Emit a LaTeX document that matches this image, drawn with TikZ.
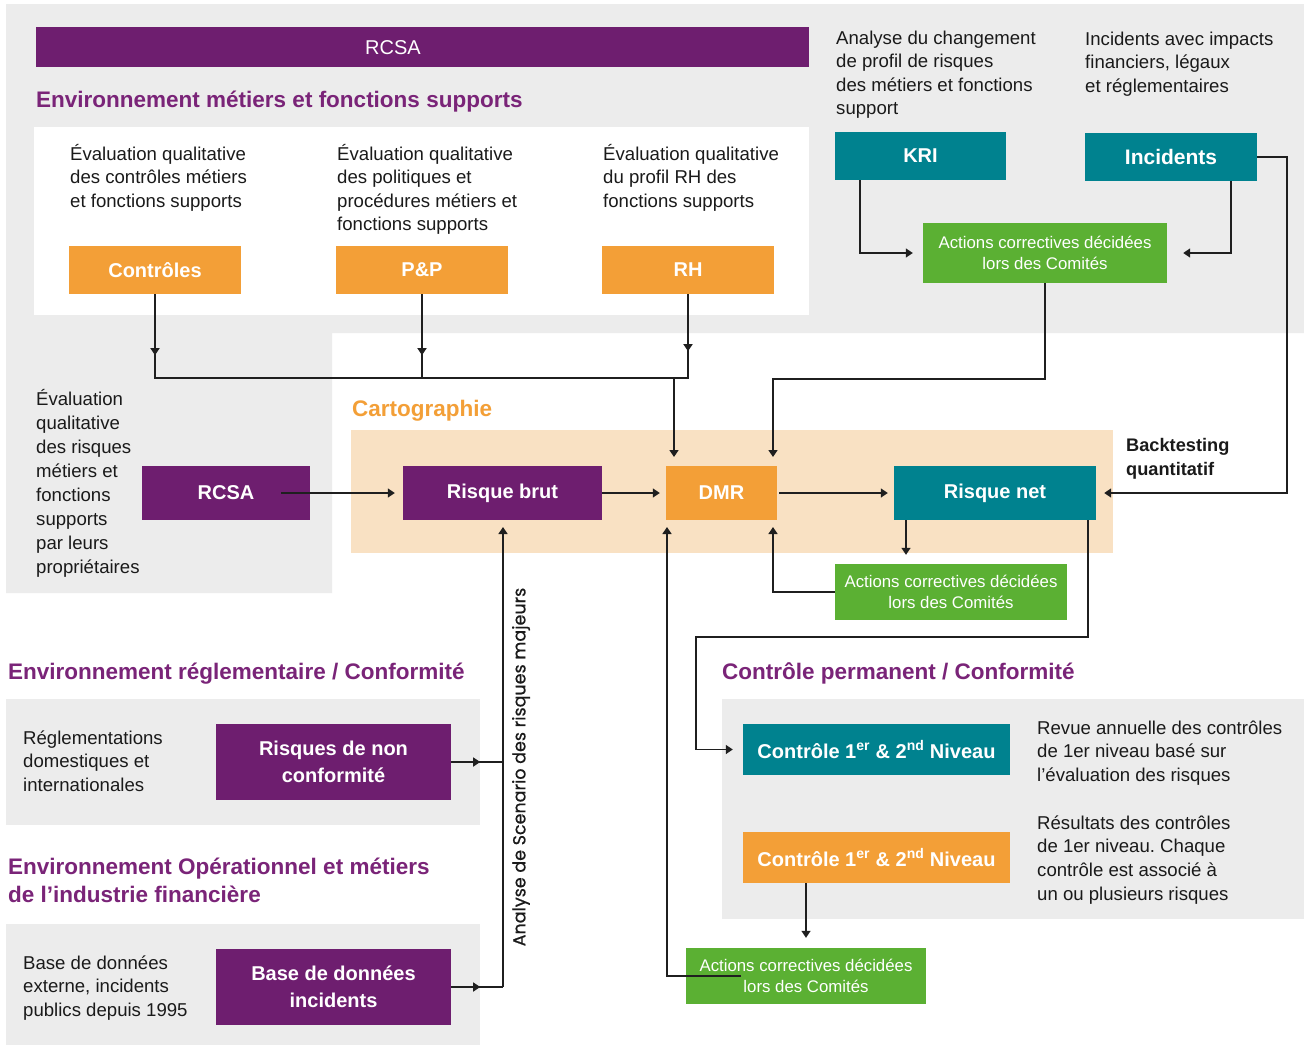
\documentclass[tikz,border=0pt]{standalone}
\usepackage{fontspec}
\setmainfont{Liberation Sans}
\newfontfamily\scenfont[FakeBold=0.7]{Poppins}
\usetikzlibrary{arrows.meta}
\frenchspacing
\definecolor{cpurple}{HTML}{6E1E6F}
\definecolor{tpurple}{HTML}{7A2478}
\definecolor{corange}{HTML}{F39F37}
\definecolor{cteal}{HTML}{00828F}
\definecolor{cgreen}{HTML}{5BB033}
\definecolor{cpeach}{HTML}{F9E1C3}
\definecolor{cgrey}{HTML}{ECECEC}
\definecolor{ctext}{HTML}{1A1A1A}
\tikzset{
  box/.style={inner sep=0pt, text=white, font=\bfseries\fontsize{20}{24}\selectfont, align=center},
  pbox/.style={box, fill=cpurple},
  obox/.style={box, fill=corange},
  tbox/.style={box, fill=cteal},
  gbox/.style={box, fill=cgreen, font=\fontsize{16.8}{20.5}\selectfont},
  body/.style={inner sep=0pt, anchor=base west, align=left, text=ctext, font=\fontsize{18.6}{23.6}\selectfont},
  ttl/.style={inner sep=0pt, anchor=base west, align=left, text=tpurple, font=\bfseries\fontsize{22.5}{29}\selectfont},
  ln/.style={line width=1.5pt, draw=black!88},
  arr/.style={ln, -{Triangle[width=9pt,length=7pt]}}
}
\begin{document}
\begin{tikzpicture}[x=1pt,y=-1pt]
\useasboundingbox (0,0) rectangle (1304,1045);
\fill[white] (0,0) rectangle (1304,1045);
% backgrounds
\fill[cgrey] (6,4) -- (1304,4) -- (1304,333) -- (332,333) -- (332,593) -- (6,593) -- cycle;
\fill[white] (34,127) rectangle (809,315);
\fill[cpeach] (351,430) rectangle (1113,553);
\fill[cgrey] (722,699) rectangle (1304,919);
\fill[cgrey] (6,699) rectangle (480,825);
\fill[cgrey] (6,924) rectangle (480,1045);

% top banner
\fill[cpurple] (36,27) rectangle (809,67);
\node[box, font=\fontsize{20}{24}\selectfont] (rcsatop) at (393,48) {RCSA};
\node[ttl] (title1) at (36,107) {Environnement métiers et fonctions supports};

% top texts (base anchor = last line baseline)
\node[body] (t1) at (70,207.2) {Évaluation qualitative\\des contrôles métiers\\et fonctions supports};
\node[body] (t2) at (337,230.8) {Évaluation qualitative\\des politiques et\\procédures métiers et\\fonctions supports};
\node[body] (t3) at (603,207.2) {Évaluation qualitative\\du profil RH des\\fonctions supports};
\node[body] (tkri) at (836,114.8) {Analyse du changement\\de profil de risques\\des métiers et fonctions\\support};
\node[body] (tinc) at (1085,92.2) {Incidents avec impacts\\financiers, légaux\\et réglementaires};

% top boxes
\node[obox, minimum width=172pt, minimum height=48pt] (ctrl) at (155,270) {Contrôles};
\node[obox, minimum width=172pt, minimum height=48pt] (pp) at (422,270) {P\&P};
\node[obox, minimum width=172pt, minimum height=48pt] (rh) at (688,270) {RH};
\node[tbox, minimum width=171pt, minimum height=48pt] (kri) at (920.5,156) {KRI};
\node[tbox, minimum width=172pt, minimum height=48pt, font=\bfseries\fontsize{21}{26}\selectfont] (inc) at (1171,157) {Incidents};
\node[gbox, minimum width=244pt, minimum height=60pt] (ga) at (1045,253) {Actions correctives décidées\\lors des Comités};

% left text
\node[body, font=\fontsize{18.6}{23.86}\selectfont] (tleft) at (36,573) {Évaluation\\qualitative\\des risques\\métiers et\\fonctions\\supports\\par leurs\\propriétaires};

% cartographie
\node[ttl, text=corange] (carto) at (352,416) {Cartographie};
\node[pbox, minimum width=168pt, minimum height=54pt] (rcsa) at (226,493) {RCSA};
\node[pbox, minimum width=199pt, minimum height=54pt] (brut) at (502.5,493) {Risque brut};
\node[obox, minimum width=111pt, minimum height=54pt] (dmr) at (721.5,493) {DMR};
\node[tbox, minimum width=202pt, minimum height=54pt] (net) at (995,493) {Risque net};
\node[body, font=\bfseries\fontsize{18.2}{24}\selectfont] (bt) at (1126,475) {Backtesting\\quantitatif};
\node[gbox, minimum width=232pt, minimum height=56pt] (gb) at (951,592) {Actions correctives décidées\\lors des Comités};

% bottom left
\node[ttl] (title2) at (8,679) {Environnement réglementaire / Conformité};
\node[body] (treg) at (23,791.2) {Réglementations\\domestiques et\\internationales};
\node[pbox, minimum width=235pt, minimum height=76pt, font=\bfseries\fontsize{20}{27}\selectfont] (nonc) at (333.5,762) {Risques de non\\conformité};
\node[ttl, font=\bfseries\fontsize{22.5}{28.5}\selectfont] (title3) at (8,902.5) {Environnement Opérationnel et métiers\\de l’industrie financière};
\node[body] (tbase) at (23,1016.2) {Base de données\\externe, incidents\\publics depuis 1995};
\node[pbox, minimum width=235pt, minimum height=76pt, font=\bfseries\fontsize{20}{27}\selectfont] (bdd) at (333.5,987) {Base de données\\incidents};
\node[rotate=90, inner sep=0pt, text=ctext, font=\scenfont\fontsize{17.5}{20}\selectfont] (scen) at (521,767) {Analyse de Scenario des risques majeurs};

% bottom right
\node[ttl] (title4) at (722,679) {Contrôle permanent / Conformité};
\node[tbox, minimum width=267pt, minimum height=51pt] (ctla) at (876.5,749.5) {Contrôle 1\textsuperscript{er} \& 2\textsuperscript{nd} Niveau};
\node[obox, minimum width=267pt, minimum height=51pt] (ctlb) at (876.5,857.5) {Contrôle 1\textsuperscript{er} \& 2\textsuperscript{nd} Niveau};
\node[body] (trev) at (1037,781.2) {Revue annuelle des contrôles\\de 1er niveau basé sur\\l’évaluation des risques};
\node[body, font=\fontsize{18.6}{23.7}\selectfont] (tres) at (1037,900.1) {Résultats des contrôles\\de 1er niveau. Chaque\\contrôle est associé à\\un ou plusieurs risques};
\node[gbox, minimum width=240pt, minimum height=56pt] (gc) at (806,976) {Actions correctives décidées\\lors des Comités};

% coordinates
\coordinate (jr) at (688,378);
\coordinate (j) at (674,378);
\coordinate (dmrT1) at (674,457);
\coordinate (k) at (773,379);
\coordinate (dmrT2) at (773,457);
\coordinate (dmrB1) at (667,527);
\coordinate (dmrB2) at (773,527);
\coordinate (btc) at (1287,493);
\coordinate (m1) at (696,637);
\coordinate (sc) at (503,987);
\coordinate (brutB) at (503,527);

% connectors top
\draw[ln] (ctrl.south) |- (jr) -- (rh.south);
\draw[ln] (pp.south) -- (pp.south |- jr);
\draw[arr] (ctrl.south) -- ++(0,61);
\draw[arr] (pp.south) -- ++(0,61);
\draw[arr] (rh.south) -- ++(0,57);
\draw[arr] (j) -- (dmrT1);
\draw[arr] ([xshift=-60.5pt]kri.south) |- ([xshift=-10pt]ga.west);
\draw[arr] ([xshift=60pt]inc.south) |- ([xshift=16pt]ga.east);
\draw[arr] (ga.south) |- (k) -- (dmrT2);
\draw[arr] (inc.east) -| (btc) -- ([xshift=8pt]net.east);

% cartographie row
\draw[arr, shorten <=-29pt, shorten >=8pt] (rcsa.east) -- (brut.west);
\draw[arr, shorten >=6pt] (brut.east) -- (dmr.west);
\draw[arr, shorten <=2pt, shorten >=6pt] (dmr.east) -- (net.west);
\draw[arr] ([xshift=-89pt]net.south) -- ([xshift=-45pt,yshift=9pt]gb.north);
\draw[arr] (gb.west) -| (dmrB2);
\draw[arr] ([xshift=93pt]net.south) |- (m1) |- ([xshift=-10pt]ctla.west);
\draw[arr] ([xshift=-70.5pt]ctlb.south) -- ([yshift=10pt]gc.north);
\draw[arr] ([xshift=-65pt]gc.center) -| (dmrB1);

% scenario
\draw[ln] (nonc.east) -| (sc);
\draw[ln] (bdd.east) -- (sc);
\draw[arr] (nonc.east) -- ++(29,0);
\draw[arr] (bdd.east) -- ++(29,0);
\draw[arr] (sc) -- (brutB);
\end{tikzpicture}
\end{document}
